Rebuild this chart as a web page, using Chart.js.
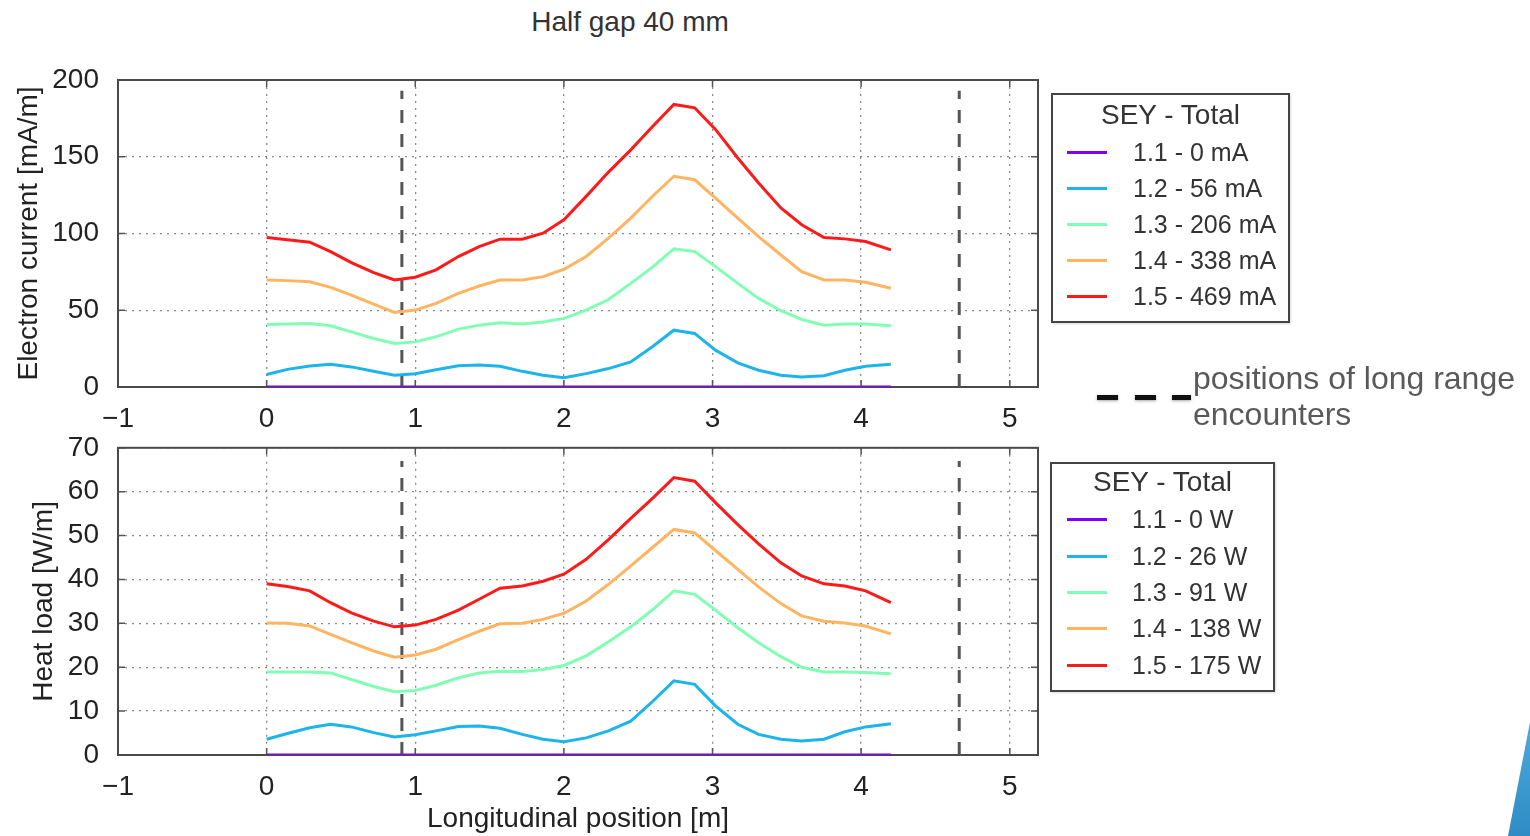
<!DOCTYPE html>
<html>
<head>
<meta charset="utf-8">
<script src="https://cdn.jsdelivr.net/npm/chart.js@4.4.1/dist/chart.umd.min.js"></script>
<style>
html,body{margin:0;padding:0;background:#fff;width:1530px;height:836px;overflow:hidden;font-family:"Liberation Sans",Arial,sans-serif;}
canvas{position:absolute;left:0;}
#c1{top:0;}
#c2{top:412px;}
#title{position:absolute;left:0;top:8px;width:1260px;text-align:center;font-size:28px;line-height:28px;color:#333;}
.legend{position:absolute;border:2px solid #444;background:#fff;box-sizing:border-box;box-shadow:1px 1px 2px rgba(0,0,0,0.15);}
.legend .lt{position:absolute;left:0;width:100%;text-align:center;font-size:28px;line-height:28px;color:#333;}
.legend .sw{position:absolute;height:3px;width:40px;}
.legend .tx{position:absolute;font-size:25px;line-height:26px;color:#333;white-space:nowrap;}
.dash{position:absolute;height:5px;background:#111;box-shadow:0 1px 3px rgba(0,0,0,0.35);}
#note{position:absolute;left:1193px;top:360px;font-size:32px;line-height:36px;color:#595959;white-space:nowrap;}
#corner{position:absolute;left:1480px;top:680px;width:50px;height:156px;background:linear-gradient(180deg,#58b4e6,#2f8cc4);clip-path:polygon(100% 27%,100% 100%,56% 100%);}
</style>
</head>
<body>
<div id="title">Half gap 40 mm</div>
<canvas id="c1" width="1530" height="440"></canvas>
<canvas id="c2" width="1530" height="424"></canvas>
<div class="dash" style="left:1097px;top:395px;width:21px;"></div>
<div class="dash" style="left:1135px;top:395px;width:21px;"></div>
<div class="dash" style="left:1172px;top:395px;width:19px;"></div>
<div id="note">positions of long range<br>encounters</div>
<div id="corner"></div>
<script>
// ---------------- DATA ----------------
const positions = [0, 0.14, 0.29, 0.43, 0.57, 0.72, 0.86, 1.0, 1.14, 1.29, 1.43, 1.57, 1.72, 1.86, 2.0,
                   2.15, 2.3, 2.45, 2.6, 2.74, 2.88, 3.02, 3.17, 3.31, 3.46, 3.6, 3.75, 3.89, 4.03, 4.2];

const seyLabels = ['1.1', '1.2', '1.3', '1.4', '1.5'];
const currentTotals = [0, 56, 206, 338, 469];   // mA
const heatTotals = [0, 26, 91, 138, 175];       // W
const seyColors = ['#8000ff', '#1cb4eb', '#80ffb4', '#ffb462', '#ff1a1a'];

const current11 = [0,0,0,0,0,0,0,0,0,0,0,0,0,0,0,0,0,0,0,0,0,0,0,0,0,0,0,0,0,0];
const current12 = [8.1, 11.5, 13.7, 14.8, 13.1, 10.2, 7.6, 8.7, 11.3, 13.9, 14.4, 13.5, 10.2, 7.6, 6.1,
                   8.7, 12.0, 16.3, 26.6, 37.0, 34.9, 24.0, 15.7, 10.9, 7.6, 6.5, 7.4, 10.9, 13.5, 14.8];
const current13 = [40.7, 41.0, 41.4, 39.9, 35.9, 31.6, 28.3, 29.4, 32.7, 37.7, 40.3, 41.8, 41.0, 42.3, 44.7,
                   50.1, 57.0, 67.5, 78.4, 90.0, 88.2, 78.4, 67.5, 57.7, 49.7, 44.0, 40.3, 41.0, 41.0, 39.9];
const current14 = [69.7, 69.3, 68.6, 64.9, 59.9, 54.0, 48.6, 50.1, 54.5, 61.0, 65.8, 69.7, 69.7, 71.9, 76.7,
                   85.0, 97.0, 110.0, 124.6, 137.3, 135.0, 123.0, 110.0, 98.0, 86.0, 75.2, 69.7, 69.7, 68.2, 64.3];
const current15 = [97.4, 95.9, 94.3, 88.2, 81.0, 74.5, 69.7, 71.5, 76.3, 85.0, 91.5, 96.3, 96.3, 100.2, 108.9,
                   124.2, 140.0, 154.5, 170.0, 184.1, 181.9, 167.8, 149.2, 132.9, 116.6, 105.7, 97.4, 96.5, 94.8, 89.3];

const heat11 = [0,0,0,0,0,0,0,0,0,0,0,0,0,0,0,0,0,0,0,0,0,0,0,0,0,0,0,0,0,0];
const heat12 = [3.6, 4.9, 6.2, 7.0, 6.4, 5.1, 4.1, 4.6, 5.5, 6.5, 6.6, 6.1, 4.7, 3.6, 3.0,
                3.9, 5.5, 7.7, 12.3, 16.9, 16.1, 11.2, 7.0, 4.7, 3.6, 3.2, 3.6, 5.3, 6.4, 7.1];
const heat13 = [18.9, 18.9, 18.9, 18.7, 17.2, 15.6, 14.4, 14.7, 15.9, 17.6, 18.7, 19.1, 19.0, 19.5, 20.4,
                22.6, 25.8, 29.2, 33.2, 37.4, 36.6, 33.0, 29.0, 25.6, 22.4, 20.0, 18.9, 18.9, 18.8, 18.5];
const heat14 = [30.1, 30.0, 29.4, 27.5, 25.6, 23.7, 22.3, 22.8, 24.1, 26.3, 28.2, 29.9, 30.0, 30.9, 32.3,
                35.1, 38.9, 43.1, 47.4, 51.4, 50.6, 46.6, 42.3, 38.3, 34.5, 31.7, 30.5, 30.1, 29.4, 27.6];
const heat15 = [39.0, 38.4, 37.4, 34.7, 32.4, 30.5, 29.2, 29.6, 30.9, 33.0, 35.5, 38.0, 38.5, 39.6, 41.2,
                44.6, 49.1, 53.9, 58.6, 63.2, 62.4, 57.5, 52.5, 48.1, 43.8, 40.8, 39.0, 38.5, 37.4, 34.7];

const longRangeEncounters = [0.91, 4.66];   // m
const currentDashTop = 193;
const heatDashTop = 67;

const xTicks = [-1, 0, 1, 2, 3, 4, 5];
const currentTicks = [0, 50, 100, 150, 200];
const heatTicks = [0, 10, 20, 30, 40, 50, 60, 70];

// ---------------- CHART ----------------
Chart.defaults.font.family = "'Liberation Sans', Arial, sans-serif";
Chart.defaults.color = '#222';

const framePlugin = {
  id: 'frame',
  beforeDatasetsDraw(chart) {
    const {ctx, chartArea: a, scales} = chart;
    ctx.save();
    ctx.setLineDash([]);
    ctx.strokeStyle = '#555';
    ctx.lineWidth = 1.5;
    const L = 7;
    ctx.beginPath();
    scales.x.ticks.forEach(t => {
      const px = scales.x.getPixelForValue(t.value);
      ctx.moveTo(px, a.bottom); ctx.lineTo(px, a.bottom - L);
      ctx.moveTo(px, a.top); ctx.lineTo(px, a.top + L);
    });
    scales.y.ticks.forEach(t => {
      const py = scales.y.getPixelForValue(t.value);
      ctx.moveTo(a.left, py); ctx.lineTo(a.left + L, py);
      ctx.moveTo(a.right, py); ctx.lineTo(a.right - L, py);
    });
    ctx.stroke();
    ctx.strokeStyle = '#4a4a4a';
    ctx.lineWidth = 2;
    ctx.strokeRect(a.left, a.top, a.right - a.left, a.bottom - a.top);
    ctx.restore();
  }
};

function buildChart(id, series, yTicks, yTitle, dashTop, cfg) {
  const datasets = series.map((vals, i) => ({
    label: seyLabels[i],
    data: positions.map((x, k) => ({x: x, y: vals[k]})),
    borderColor: seyColors[i],
    backgroundColor: seyColors[i],
    borderWidth: 3,
    pointRadius: 0,
    tension: 0,
    fill: false
  }));
  longRangeEncounters.forEach(p => {
    datasets.push({
      label: 'LR',
      data: [{x: p, y: 0}, {x: p, y: dashTop}],
      borderColor: '#555',
      borderWidth: 3,
      borderDash: [13, 11],
      pointRadius: 0,
      fill: false
    });
  });
  return new Chart(document.getElementById(id), {
    type: 'line',
    data: {datasets},
    plugins: [framePlugin],
    options: {
      responsive: false,
      animation: false,
      devicePixelRatio: 1,
      layout: {padding: {left: 0, right: 492, top: cfg.padTop, bottom: 0}},
      plugins: {legend: {display: false}, tooltip: {enabled: false}},
      scales: {
        x: {
          type: 'linear',
          min: -1, max: 5.19,
          afterBuildTicks: s => { s.ticks = xTicks.map(v => ({value: v})); },
          afterFit: s => { s.height = cfg.xHeight; },
          ticks: {font: {size: 28}, padding: 15, color: '#222',
                  callback: v => (v < 0 ? '\u2212' + Math.abs(v) : String(v))},
          grid: {color: '#8a8a8a', lineWidth: 1.3, drawTicks: false},
          border: {display: false, dash: [2, 5]},
          title: {display: cfg.showXTitle, text: 'Longitudinal position [m]',
                  font: {size: 28}, color: '#222', padding: {top: 0, bottom: 0}}
        },
        y: {
          type: 'linear',
          min: yTicks[0], max: yTicks[yTicks.length - 1],
          afterBuildTicks: s => { s.ticks = yTicks.map(v => ({value: v})); },
          afterFit: s => { s.width = 118; },
          ticks: {font: {size: 28}, padding: 19, color: '#222'},
          grid: {color: '#8a8a8a', lineWidth: 1.3, drawTicks: false},
          border: {display: false, dash: [2, 5]},
          title: {display: true, text: yTitle, font: {size: 28}, color: '#222',
                  padding: {top: cfg.yTitlePad, bottom: 0}}
        }
      }
    }
  });
}

const chart1 = buildChart('c1', [current11, current12, current13, current14, current15], currentTicks,
  'Electron current [mA/m]', currentDashTop, {padTop: 80, xHeight: 53, showXTitle: false, yTitlePad: 12});
const chart2 = buildChart('c2', [heat11, heat12, heat13, heat14, heat15], heatTicks,
  'Heat load [W/m]', heatDashTop, {padTop: 17, xHeight: 81, showXTitle: true, yTitlePad: 27});

// ---------------- HTML LEGENDS (from dataset labels/colours) ----------------
function buildLegend(chart, totals, unit, box) {
  const div = document.createElement('div');
  div.className = 'legend';
  div.style.left = box.left + 'px'; div.style.top = box.top + 'px';
  div.style.width = box.width + 'px'; div.style.height = box.height + 'px';
  const t = document.createElement('div');
  t.className = 'lt'; t.textContent = 'SEY - Total';
  t.style.top = (box.titleY - box.top - 2 - 14) + 'px';
  div.appendChild(t);
  chart.data.datasets.slice(0, totals.length).forEach((ds, i) => {
    const cy = box.rows[i] - box.top - 2;
    const sw = document.createElement('div');
    sw.className = 'sw';
    sw.style.background = ds.borderColor;
    sw.style.left = (1067 - box.left - 2) + 'px';
    sw.style.top = (cy - 1.5) + 'px';
    div.appendChild(sw);
    const tx = document.createElement('div');
    tx.className = 'tx';
    tx.textContent = ds.label + ' - ' + totals[i] + ' ' + unit;
    tx.style.left = (box.textX - box.left - 2) + 'px';
    tx.style.top = (cy - 13) + 'px';
    div.appendChild(tx);
  });
  document.body.appendChild(div);
}
buildLegend(chart1, currentTotals, 'mA', {left: 1051, top: 93, width: 239, height: 230, titleY: 115,
  rows: [152, 188, 224, 260, 296], textX: 1133});
buildLegend(chart2, heatTotals, 'W', {left: 1050, top: 462, width: 225, height: 230, titleY: 482,
  rows: [519, 556, 592, 628, 665], textX: 1132});
</script>
</body>
</html>
